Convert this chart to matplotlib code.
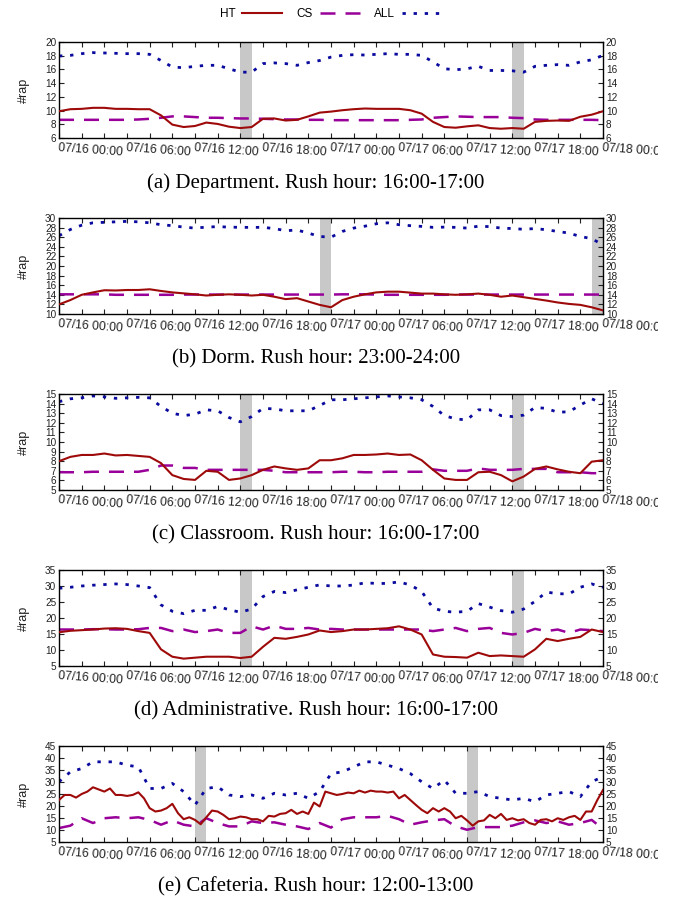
import matplotlib.pyplot as plt
import numpy as np
from matplotlib.lines import Line2D
from matplotlib.patches import Rectangle

plt.rcParams['font.family'] = 'sans-serif'
plt.rcParams['font.sans-serif'] = ['Liberation Sans']

hours = np.arange(49)
half_hours = np.arange(97) / 2

# (a) Department
dep_ht = [9.9, 10.2, 10.25, 10.4, 10.4, 10.25, 10.25, 10.2, 10.2, 9.3, 7.95, 7.6, 7.75, 8.25, 8.05, 7.65, 7.45,
          7.6, 8.8, 8.85, 8.55, 8.65, 9.15, 9.7, 9.85, 10.05, 10.2, 10.3, 10.25, 10.25, 10.25, 10.05, 9.55,
          8.35, 7.6, 7.5, 7.7, 7.85, 7.45, 7.35, 7.45, 7.35, 8.35, 8.5, 8.55, 8.5, 9.1, 9.4, 9.9]
dep_cs = [8.65, 8.65, 8.65, 8.65, 8.65, 8.65, 8.65, 8.7, 8.8, 8.95, 9.15, 9.15, 9.05, 8.95, 8.95, 8.9, 8.85,
          8.85, 8.8, 8.75, 8.7, 8.7, 8.65, 8.65, 8.6, 8.6, 8.6, 8.6, 8.6, 8.6, 8.6, 8.65, 8.7,
          8.95, 9.05, 9.15, 9.1, 9.05, 9.05, 9.05, 8.95, 8.9, 8.7, 8.65, 8.65, 8.65, 8.65, 8.65, 8.6]
dep_all = [17.96, 18.05, 18.3, 18.45, 18.4, 18.35, 18.3, 18.3, 18.2, 17.3, 16.35, 16.25, 16.45, 16.6, 16.6, 16.1, 15.6,
           15.6, 16.85, 16.95, 16.85, 16.6, 17.0, 17.3, 17.8, 18.05, 18.15, 18.1, 18.2, 18.3, 18.2, 18.2, 18.05,
           17.1, 16.1, 15.95, 16.1, 16.45, 15.85, 15.85, 15.8, 15.6, 16.45, 16.6, 16.7, 16.6, 17.1, 17.4, 18.05]

# (b) Dorm
dorm_ht = [12.0, 12.9, 14.0, 14.5, 14.95, 14.9, 15.0, 15.0, 15.15, 14.8, 14.5, 14.3, 14.1, 13.85, 14.0, 14.1, 14.0,
           13.85, 14.0, 13.6, 13.1, 13.3, 12.6, 11.9, 11.4, 12.9, 13.6, 14.1, 14.5, 14.65, 14.65, 14.45, 14.25,
           14.25, 14.1, 14.0, 14.1, 14.25, 14.0, 13.6, 13.85, 13.5, 13.15, 12.8, 12.4, 12.1, 11.9, 11.4, 10.75]
dorm_cs = [14.1, 14.1, 14.1, 14.1, 14.1, 14.0, 14.0, 14.0, 14.0, 14.0, 14.0, 14.05, 14.05, 14.05, 14.05, 14.05, 14.05,
           14.05, 14.05, 14.05, 14.05, 14.05, 14.05, 14.05, 14.05, 14.1, 14.1, 14.1, 14.05, 14.0, 14.0, 14.0, 14.0,
           14.0, 14.0, 14.05, 14.05, 14.05, 14.05, 14.05, 14.05, 14.05, 14.05, 14.05, 14.05, 14.05, 14.05, 14.05, 14.05]
dorm_all = [26.3, 27.6, 28.5, 29.0, 29.1, 29.2, 29.3, 29.2, 29.0, 28.6, 28.4, 28.1, 27.9, 28.1, 28.2, 28.1, 28.05,
            28.05, 28.05, 27.8, 27.35, 27.5, 26.85, 26.15, 26.0, 27.2, 27.9, 28.3, 28.8, 29.0, 28.6, 28.4, 28.25,
            28.05, 28.1, 28.05, 27.9, 28.3, 28.2, 27.9, 27.8, 27.65, 27.8, 27.55, 27.2, 26.85, 26.15, 25.7, 24.4]

# (c) Classroom
cls_ht = [8.0, 8.45, 8.65, 8.65, 8.8, 8.6, 8.65, 8.55, 8.45, 7.8, 6.55, 6.15, 6.05, 7.0, 6.9, 6.05, 6.2,
          6.55, 7.1, 7.45, 7.25, 7.1, 7.25, 8.1, 8.1, 8.3, 8.65, 8.65, 8.7, 8.8, 8.65, 8.7, 8.1,
          7.1, 6.2, 6.05, 6.05, 6.85, 6.9, 6.55, 5.9, 6.4, 7.2, 7.45, 7.15, 6.9, 6.75, 7.95, 8.1]
cls_cs = [6.85, 6.85, 6.85, 6.9, 6.9, 6.9, 6.9, 6.9, 7.1, 7.55, 7.55, 7.3, 7.3, 7.1, 7.1, 7.1, 7.1,
          7.1, 7.1, 7.0, 6.85, 6.85, 6.85, 6.85, 6.85, 6.9, 6.9, 6.85, 6.85, 6.9, 6.9, 6.9, 6.9,
          7.15, 7.0, 7.0, 7.0, 7.25, 7.1, 7.1, 7.1, 7.2, 7.2, 7.2, 6.85, 6.85, 6.85, 6.75, 6.75]
cls_all = [14.2, 14.5, 14.6, 14.8, 14.7, 14.55, 14.6, 14.65, 14.6, 13.7, 13.0, 12.75, 12.9, 13.35, 13.25, 12.55, 12.1,
           12.65, 13.5, 13.45, 13.25, 13.25, 13.25, 13.8, 14.4, 14.4, 14.5, 14.6, 14.7, 14.8, 14.7, 14.6, 14.4,
           13.7, 12.75, 12.4, 12.3, 13.35, 13.35, 12.75, 12.65, 12.8, 13.6, 13.5, 13.1, 13.15, 13.85, 14.5, 14.0]

# (d) Administrative
adm_ht = [15.55, 16.0, 16.2, 16.4, 16.7, 16.8, 16.6, 15.9, 15.35, 10.2, 7.9, 7.3, 7.6, 7.9, 7.9, 7.9, 7.5,
          7.9, 11.0, 13.8, 13.5, 14.1, 14.85, 16.1, 15.6, 15.9, 16.4, 16.4, 16.6, 16.8, 17.4, 16.4, 14.85,
          8.6, 7.9, 7.8, 7.6, 9.15, 8.1, 8.3, 8.1, 7.9, 10.2, 13.5, 12.8, 13.5, 14.1, 16.4, 15.6]
adm_cs = [16.4, 16.4, 16.4, 16.5, 16.5, 16.4, 16.4, 16.5, 16.9, 16.9, 15.9, 16.4, 15.6, 15.9, 16.4, 15.35, 15.35,
          17.4, 16.4, 17.6, 16.6, 16.6, 16.9, 16.4, 16.6, 16.4, 16.4, 16.4, 16.4, 16.4, 16.4, 16.4, 16.4,
          15.9, 16.4, 16.9, 15.9, 16.6, 16.9, 15.35, 14.85, 15.35, 16.6, 15.9, 16.4, 15.35, 16.4, 16.2, 15.9]
adm_all = [29.3, 29.6, 30.0, 30.25, 30.45, 30.65, 30.45, 30.0, 29.5, 24.1, 22.1, 21.35, 22.4, 22.4, 23.6, 22.6, 21.8,
           22.8, 26.7, 28.3, 27.95, 28.8, 29.6, 30.35, 30.0, 30.0, 30.3, 31.0, 30.8, 30.8, 31.3, 30.3, 28.3,
           23.1, 22.1, 21.8, 22.1, 24.5, 23.4, 22.3, 21.8, 22.8, 25.2, 28.1, 27.6, 27.5, 29.6, 30.65, 29.6]

# (e) Cafeteria  (HT read every half hour, it is much noisier)
caf_ht = [22.5, 24.6, 24.6, 23.5, 25.0, 26.0, 27.8, 26.9, 26.0, 27.3, 24.6, 24.6, 24.2, 24.6, 25.7, 23.2,
          19.1, 17.7, 18.1, 19.1, 20.9, 17.0, 14.5, 15.3, 14.2, 12.4, 15.3, 18.1, 17.7, 16.3, 14.5, 14.9,
          15.6, 15.3, 14.5, 14.5, 13.6, 15.9, 15.6, 16.7, 17.0, 18.4, 16.7, 17.7, 16.7, 21.4, 19.8, 26.0,
          25.3, 24.6, 25.0, 25.6, 25.3, 26.4, 25.6, 26.4, 26.0, 26.0, 25.6, 26.0, 23.2, 24.6, 22.5, 20.4,
          18.4, 17.0, 19.1, 17.7, 19.1, 17.7, 14.9, 15.9, 14.0, 11.8, 13.6, 14.0, 16.3, 14.9, 16.7, 14.2,
          14.9, 14.0, 14.5, 12.9, 12.2, 14.2, 14.5, 13.6, 14.9, 14.2, 15.3, 15.9, 14.2, 17.7, 17.7, 22.5, 26.7]
caf_cs = [10.8, 11.8, 14.9, 12.9, 14.9, 15.3, 14.9, 15.3, 14.2, 12.2, 14.0, 12.2, 11.5, 14.9, 12.9, 11.5, 11.5,
          13.6, 12.9, 13.2, 12.2, 11.5, 10.4, 12.9, 11.0, 14.5, 15.3, 15.3, 15.3, 15.9, 14.5, 12.2, 13.2,
          14.0, 14.5, 11.5, 10.1, 11.2, 11.2, 11.2, 11.8, 13.2, 14.0, 12.9, 13.6, 12.2, 12.9, 14.2, 10.4]
caf_all = [30.1, 34.2, 35.6, 38.4, 38.4, 38.4, 37.0, 36.3, 27.3, 27.3, 29.4, 26.0, 20.4, 27.3, 28.0, 24.6, 23.9,
           24.6, 23.2, 25.3, 24.6, 25.3, 23.2, 26.0, 33.5, 34.2, 36.3, 38.4, 38.4, 37.0, 35.6, 33.5, 30.1,
           27.3, 30.8, 25.3, 25.3, 26.0, 23.9, 23.2, 22.5, 23.2, 21.8, 24.6, 25.3, 26.0, 23.9, 30.1, 32.2]

panels = [
    ('(a) Department. Rush hour: 16:00-17:00', hours, dep_ht, dep_cs, dep_all, (6, 20, 2), [(16, 17), (40, 41)]),
    ('(b) Dorm. Rush hour: 23:00-24:00', hours, dorm_ht, dorm_cs, dorm_all, (10, 30, 2), [(23, 24), (47, 48)]),
    ('(c) Classroom. Rush hour: 16:00-17:00', hours, cls_ht, cls_cs, cls_all, (5, 15, 1), [(16, 17), (40, 41)]),
    ('(d) Administrative. Rush hour: 16:00-17:00', hours, adm_ht, adm_cs, adm_all, (5, 35, 5), [(16, 17), (40, 41)]),
    ('(e) Cafeteria. Rush hour: 12:00-13:00', half_hours, caf_ht, caf_cs, caf_all, (5, 45, 5), [(12, 13), (36, 37)]),
]

xlabels = ['07/16 00:00', '07/16 06:00', '07/16 12:00', '07/16 18:00',
           '07/17 00:00', '07/17 06:00', '07/17 12:00', '07/17 18:00', '07/18 00:00']

c_ht = '#9e0a0a'
c_cs = '#990099'
c_all = '#0a0a9e'

W, H = 675, 897
fig = plt.figure(figsize=(W / 100, H / 100), dpi=100)

for i, (title, ht_x, ht, cs, al, (y0, y1, ys), rush) in enumerate(panels):
    top = 42 + 176 * i
    ax = fig.add_axes([59 / W, 1 - (top + 96) / H, 544 / W, 96 / H])
    for a, b in rush:
        ax.axvspan(a, b, color='#c8c8c8', lw=0, zorder=0)
    ax.plot(ht_x, ht, color=c_ht, lw=1.5, zorder=3)
    ax.plot(hours, cs, color=c_cs, lw=1.8, dashes=(6, 4), zorder=2)
    ax.plot(hours, al, color=c_all, lw=2.0, dashes=(1.2, 2.8), zorder=2)
    ax.set_xlim(0, 48)
    ax.set_ylim(y0, y1)
    ax.set_xticks(np.arange(0, 49, 2))
    ax.set_xticklabels([xlabels[k // 6] if k % 6 == 0 else '' for k in range(0, 49, 2)],
                       rotation=-4, ha='left', va='top', rotation_mode='anchor', fontsize=8.7)
    ax.set_yticks(np.arange(y0, y1 + 0.01, ys))
    ax.tick_params(axis='x', direction='in', length=3.5, width=0.8, top=True, pad=3, colors='#222222')
    ax.tick_params(axis='y', direction='in', length=3.5, width=0.8, right=True, labelright=True,
                   labelsize=7.2, pad=2, colors='#222222')
    ax.set_ylabel('#rap', fontsize=9, color='#222222', labelpad=11)
    for s in ax.spines.values():
        s.set_linewidth(1.0)
    fig.text(316 / W, 1 - (top + 141) / H, title, ha='center', va='center',
             family='Liberation Serif', fontsize=15)

handles = [Line2D([], [], color=c_ht, lw=1.5),
           Line2D([], [], color=c_cs, lw=1.8, dashes=(6, 4)),
           Line2D([], [], color=c_all, lw=2.0, dashes=(1.2, 2.8))]
fig.legend(handles, ['HT', 'CS', 'ALL'], loc='center', bbox_to_anchor=(331 / W, 1 - 14 / H),
           ncol=3, frameon=False, markerfirst=False, fontsize=8.5, handlelength=3.4,
           columnspacing=1.2, handletextpad=0.6)

# the original page is cut just right of the last tick label
fig.patches.append(Rectangle((658 / W, 0), 1, 1, transform=fig.transFigure,
                             facecolor='white', edgecolor='none', zorder=10))

fig.savefig('out.png', dpi=100)
